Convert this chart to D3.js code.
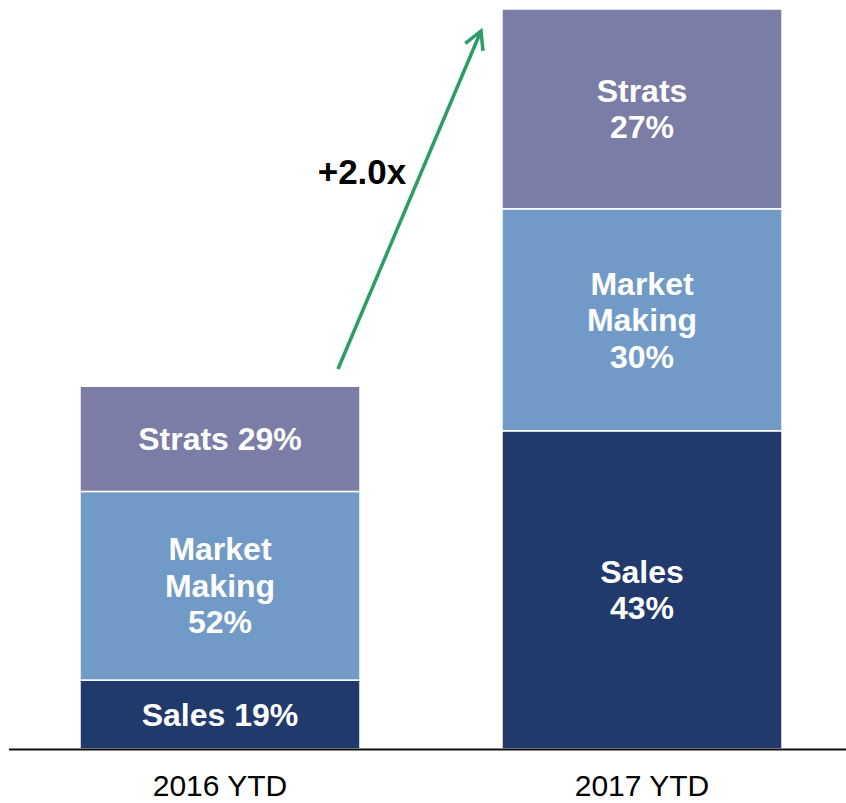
<!DOCTYPE html>
<html>
<head>
<meta charset="utf-8">
<script src="https://cdn.jsdelivr.net/npm/d3@7/dist/d3.min.js"></script>
<style>
  html, body { margin: 0; padding: 0; background: #fff; }
  svg { display: block; }
  text { font-family: "Liberation Sans", Arial, Helvetica, sans-serif; }
</style>
</head>
<body>
<svg></svg>
<script>
// data
const periods = ["2016 YTD", "2017 YTD"];
const segments = ["Sales", "Market Making", "Strats"];
const totals = [100, 204];                 // 2017 is ~2.0x 2016
const sharesSales = [19, 43];
const sharesMarketMaking = [52, 30];
const sharesStrats = [29, 27];
const labels2016 = [["Sales 19%"], ["Market", "Making", "52%"], ["Strats 29%"]];
const labels2017 = [["Sales", "43%"], ["Market", "Making", "30%"], ["Strats", "27%"]];
const growthLabel = "+2.0x";

const colors = {"Sales": "#203a6b", "Market Making": "#729ac7", "Strats": "#7c7da6"};

const width = 846, height = 803;
const svg = d3.select("svg").attr("width", width).attr("height", height);

const baseY = 749;
const y = d3.scaleLinear().domain([0, 204]).range([baseY, 9]);
const x = d3.scaleBand().domain(periods).range([80, 782]).paddingInner(0.3365).paddingOuter(0);

// build rows for d3.stack
const shareCols = [sharesSales, sharesMarketMaking, sharesStrats];
const rows = periods.map((p, i) => {
  const r = {period: p};
  segments.forEach((s, j) => { r[s] = totals[i] * shareCols[j][i] / 100; });
  return r;
});
const labelSets = [labels2016, labels2017];

const stack = d3.stack().keys(segments);
const series = stack(rows);

const g = svg.append("g");

series.forEach((ser, j) => {
  g.selectAll(null).data(ser).enter().append("rect")
    .attr("x", d => x(d.data.period))
    .attr("y", d => y(d[1]))
    .attr("width", x.bandwidth())
    .attr("height", d => y(d[0]) - y(d[1]))
    .attr("fill", colors[ser.key])
    .attr("stroke", "#fff")
    .attr("stroke-width", 1.5);
});

// segment labels
const lineH = 36.5;
series.forEach((ser, j) => {
  ser.forEach((d, i) => {
    const lines = labelSets[i][j];
    const mid = (y(d[0]) + y(d[1])) / 2;
    const cx = x(d.data.period) + x.bandwidth() / 2;
    const t = g.append("text")
      .attr("text-anchor", "middle")
      .attr("fill", "#fff")
      .attr("font-weight", "bold")
      .attr("font-size", "32px");
    lines.forEach((ln, k) => {
      t.append("tspan")
        .attr("x", cx)
        .attr("y", mid + (k - (lines.length - 1) / 2) * lineH)
        .attr("dy", "0.35em")
        .text(ln);
    });
  });
});

// baseline
svg.append("line")
  .attr("x1", 9).attr("x2", width)
  .attr("y1", baseY + 0.5).attr("y2", baseY + 0.5)
  .attr("stroke", "#111").attr("stroke-width", 2);

// category labels
svg.selectAll(".cat").data(periods).enter().append("text")
  .attr("class", "cat")
  .attr("x", d => x(d) + x.bandwidth() / 2)
  .attr("y", 796)
  .attr("text-anchor", "middle")
  .attr("font-size", "30px")
  .attr("fill", "#000")
  .text(d => d);

// growth arrow
const green = "#2e9c66";
const x0 = 338, y0 = 369, x1 = 481, y1 = 31;
svg.append("line")
  .attr("x1", x0).attr("y1", y0).attr("x2", x1).attr("y2", y1)
  .attr("stroke", green).attr("stroke-width", 3.5);
const ang = Math.atan2(y1 - y0, x1 - x0);
const headLen = 20, spread = 0.5;
svg.append("path")
  .attr("d", "M" + (x1 - headLen * Math.cos(ang - spread)) + "," + (y1 - headLen * Math.sin(ang - spread)) +
             "L" + x1 + "," + y1 +
             "L" + (x1 - headLen * Math.cos(ang + spread)) + "," + (y1 - headLen * Math.sin(ang + spread)))
  .attr("fill", "none").attr("stroke", green).attr("stroke-width", 3.5)
  .attr("stroke-linejoin", "miter").attr("stroke-linecap", "butt");

svg.append("text")
  .attr("x", 362).attr("y", 184)
  .attr("text-anchor", "middle")
  .attr("font-weight", "bold")
  .attr("font-size", "35px")
  .attr("fill", "#000")
  .text(growthLabel);
</script>
</body>
</html>
